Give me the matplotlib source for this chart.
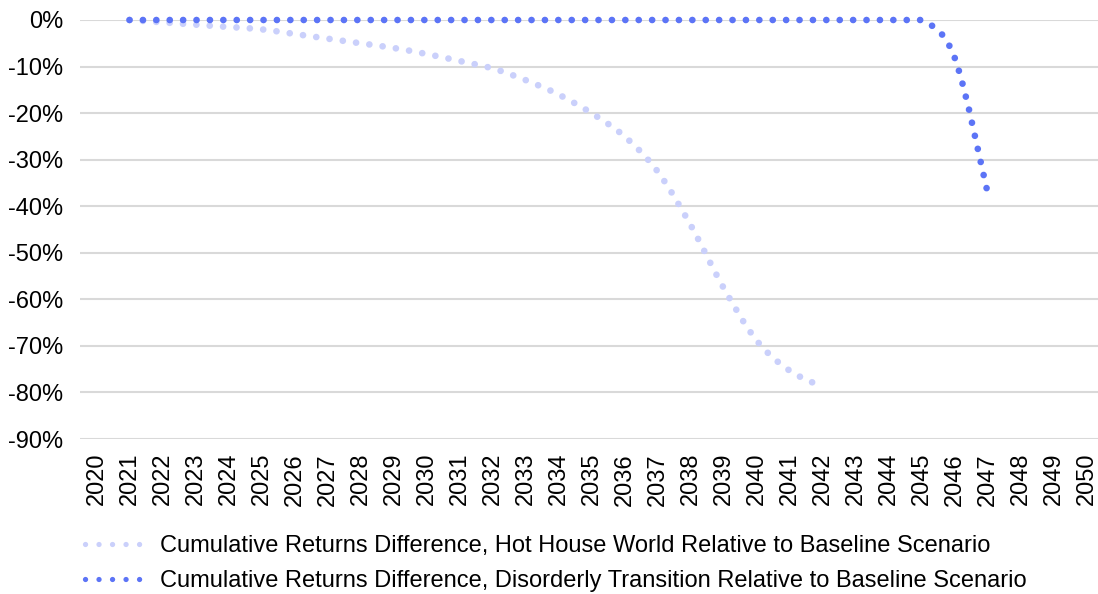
import matplotlib
matplotlib.use("Agg")
import matplotlib.pyplot as plt
from matplotlib.path import Path
from matplotlib.patches import PathPatch
from matplotlib.lines import Line2D
from matplotlib.ticker import FuncFormatter

plt.rcParams['font.family'] = ['Liberation Sans', 'DejaVu Sans']

years = [str(y) for y in range(2020, 2051)]

hot_years = list(range(2021, 2043))
hot_values = [0.0, -0.5, -1.0, -1.5, -2.0, -3.0, -4.0, -5.0, -6.0, -7.3, -8.8,
              -10.4, -12.9, -16.0, -20.0, -25.0, -32.5, -44.0, -57.5, -68.8, -75.3, -78.8]

dis_years = list(range(2021, 2048))
dis_values = [0.0] * 25 + [-8.0, -37.0]

series_labels = [
    "Cumulative Returns Difference, Hot House World Relative to Baseline Scenario",
    "Cumulative Returns Difference, Disorderly Transition Relative to Baseline Scenario",
]
colors = ["#CAD0FB", "#5C74F6"]

yticks = list(range(0, -100, -10))

W, H = 1098, 594
fig = plt.figure(figsize=(W / 100, H / 100), dpi=100)
ax = fig.add_axes([80 / W, 1 - 439 / H, 1023 / W, (439 - 20) / H])


def smooth_path(xs, ys):
    # Bezier smoothing (Catmull-Rom style) through the data points
    verts = [(xs[0], ys[0])]
    codes = [Path.MOVETO]
    n = len(xs)
    for i in range(n - 1):
        x0, y0 = (xs[i - 1], ys[i - 1]) if i > 0 else (xs[i], ys[i])
        x1, y1 = xs[i], ys[i]
        x2, y2 = xs[i + 1], ys[i + 1]
        x3, y3 = (xs[i + 2], ys[i + 2]) if i + 2 < n else (x2, y2)
        c1 = [x1 + (x2 - x0) / 6, y1 + (y2 - y0) / 6]
        c2 = [x2 - (x3 - x1) / 6, y2 - (y3 - y1) / 6]
        if y1 == y2:
            c1[1] = y1
            c2[1] = y2
        verts += [tuple(c1), tuple(c2), (x2, y2)]
        codes += [Path.CURVE4] * 3
    return Path(verts, codes)


lw = 4.8
dash = (0, (0.01, 2.0))
for yrs, vals, col in [(hot_years, hot_values, colors[0]), (dis_years, dis_values, colors[1])]:
    xs = [years.index(str(y)) for y in yrs]
    p = smooth_path(xs, vals)
    patch = PathPatch(p, facecolor='none', edgecolor=col, lw=lw, linestyle=dash,
                      capstyle='round', zorder=3, clip_on=False)
    ax.add_patch(patch)

ax.set_xlim(-0.5, len(years) - 0.5)
ax.set_ylim(-90, 0)
ax.set_xticks(range(len(years)))
ax.set_xticklabels(years, rotation=90, fontsize=17)
ax.set_yticks(yticks)
ax.yaxis.set_major_formatter(FuncFormatter(lambda v, p: f"{int(round(v))}%"))
ax.tick_params(axis='y', labelsize=17, length=0, pad=12)
ax.tick_params(axis='x', length=0, pad=10)
ax.grid(axis='y', color='#D9D9D9', lw=1.5)
ax.set_axisbelow(True)
for s in ax.spines.values():
    s.set_visible(False)

handles = [Line2D([], [], color=c, lw=3.8, linestyle=(0, (0.01, 2.55)),
                  dash_capstyle='round') for c in colors]
fig.legend(handles, series_labels, loc='upper left', bbox_to_anchor=(76 / W, 1 - 526 / H),
           frameon=False, fontsize=17, handlelength=2.45, handletextpad=0.7,
           labelspacing=0.55, borderaxespad=0)

fig.savefig("out.png", dpi=100)
